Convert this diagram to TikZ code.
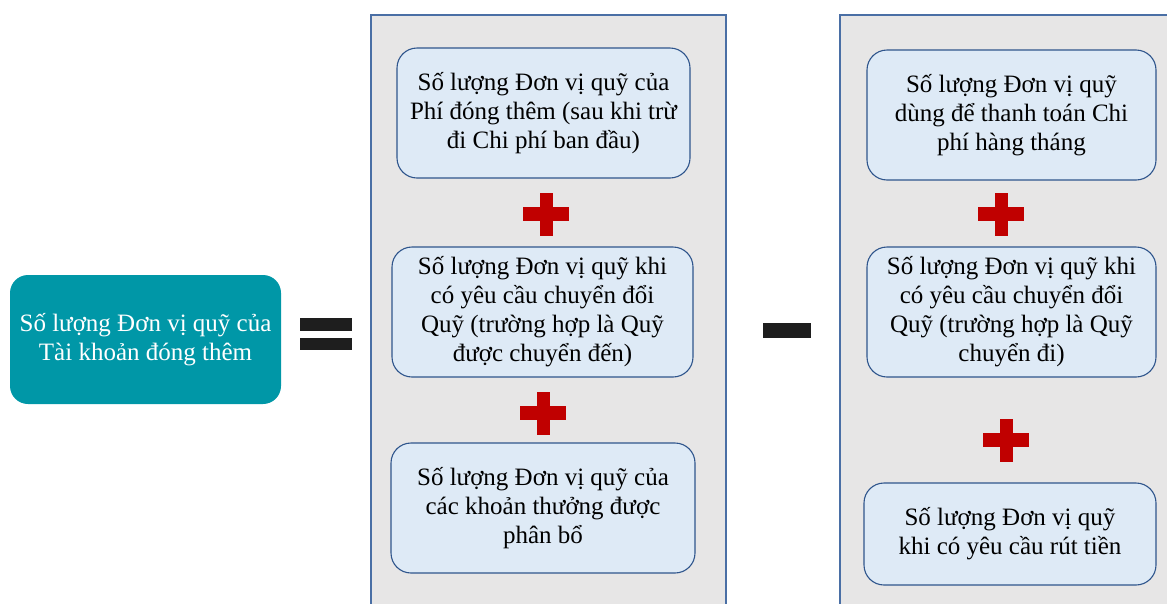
\documentclass[tikz,border=0pt]{standalone}
\usepackage{fontspec}
\setmainfont{Liberation Serif}
\usetikzlibrary{positioning}
\definecolor{panelgray}{RGB}{231,230,230}
\definecolor{panelblue}{RGB}{74,111,165}
\definecolor{boxfill}{RGB}{222,234,246}
\definecolor{boxline}{RGB}{47,85,140}
\definecolor{tealbox}{RGB}{0,151,167}
\definecolor{plusred}{RGB}{192,0,0}
\definecolor{signgray}{RGB}{30,30,30}

\begin{document}
\begin{tikzpicture}[x=1pt,y=-1pt]
\tikzstyle{every node}=[font=\fontsize{25}{29}\selectfont, align=center, inner sep=0pt]
\tikzstyle{panel}=[fill=panelgray, draw=panelblue, line width=1.4pt]
\tikzstyle{term}=[rectangle, rounded corners=20pt, fill=boxfill, draw=boxline, line width=1.1pt, minimum height=130pt]
\tikzstyle{total}=[rectangle, rounded corners=18pt, fill=tealbox, text=white, minimum width=271pt, minimum height=129pt]
\tikzset{plus sign/.pic={\fill[plusred] (-23,-7) rectangle (23,7); \fill[plusred] (-6.5,-21.5) rectangle (6.5,21.5);}}
\clip (0,0) rectangle (1167,603);
% the two panels
\draw[panel] (371,630) -- (371,15) -- (726,15) -- (726,630);
\draw[panel] (840,630) -- (840,15) -- (1190,15) -- (1190,630);
% left side
\node[total] (sum) at (145.5,339.5) {Số lượng Đơn vị quỹ của\\Tài khoản đóng thêm};
\fill[signgray] (300,318) rectangle (352,331);
\fill[signgray] (300,338) rectangle (352,350);
% added units
\node[term, minimum width=293pt] (prem) at (543.5,113) {Số lượng Đơn vị quỹ của\\Phí đóng thêm (sau khi trừ\\đi Chi phí ban đầu)};
\node[term, minimum width=301pt] (switchin) at (542.5,312) {Số lượng Đơn vị quỹ khi\\có yêu cầu chuyển đổi\\Quỹ (trường hợp là Quỹ\\được chuyển đến)};
\node[term, minimum width=304pt] (bonus) at (543,508) {Số lượng Đơn vị quỹ của\\các khoản thưởng được\\phân bổ};
\pic at (546,214) {plus sign};
\pic at (543,413) {plus sign};
% minus sign
\fill[signgray] (763,323) rectangle (811,338);
% removed units
\node[term, minimum width=289pt] (fee) at (1011.5,115) {Số lượng Đơn vị quỹ\\dùng để thanh toán Chi\\phí hàng tháng};
\node[term, minimum width=289pt] (switchout) at (1011.5,312) {Số lượng Đơn vị quỹ khi\\có yêu cầu chuyển đổi\\Quỹ (trường hợp là Quỹ\\chuyển đi)};
\node[term, minimum width=292pt, minimum height=102pt] (withdraw) at (1010,534) {Số lượng Đơn vị quỹ\\khi có yêu cầu rút tiền};
\pic at (1001,214) {plus sign};
\pic at (1006,440) {plus sign};
\end{tikzpicture}
\end{document}
